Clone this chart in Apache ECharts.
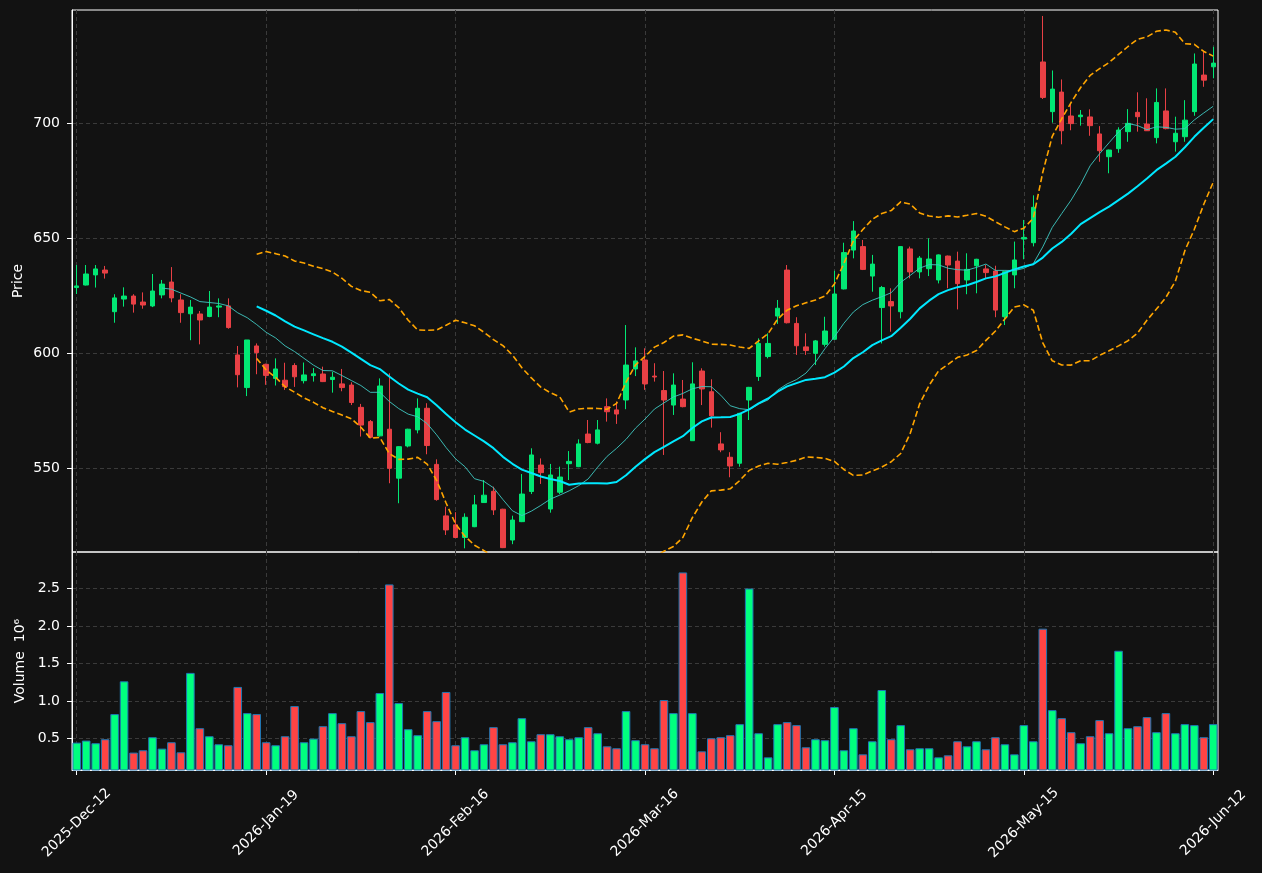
<!DOCTYPE html>
<html>
<head>
<meta charset="utf-8">
<title>Price / Volume</title>
<script src="https://cdn.jsdelivr.net/npm/echarts@6.0.0/dist/echarts.min.js"></script>
<style>
  html, body { margin: 0; padding: 0; background: #121212; }
  #main { width: 1262px; height: 873px; }
</style>
</head>
<body>
<div id="main"></div>
<script>
// ticks shown every 20 bars
const tickLabels = ['2025-Dec-12', '2026-Jan-19', '2026-Feb-16', '2026-Mar-16', '2026-Apr-15', '2026-May-15', '2026-Jun-12'];

const opens = [
  628.6, 629.7, 634.1, 636.2, 618.1, 623.6, 624.9, 622.3, 620.6, 625.4,
  631.0, 623.2, 617.2, 617.1, 616.0, 620.1, 620.6, 599.3, 585.1, 603.2,
  595.2, 589.1, 588.3, 594.7, 588.1, 590.3, 591.0, 588.6, 586.7, 586.2,
  576.5, 570.3, 564.1, 567.0, 545.7, 559.7, 566.7, 576.1, 551.7, 529.3,
  525.4, 519.9, 524.6, 535.1, 540.0, 532.2, 518.8, 526.8, 539.9, 551.4,
  532.3, 539.6, 552.0, 550.7, 564.9, 560.9, 576.8, 575.4, 579.7, 593.2,
  597.1, 590.1, 583.8, 577.5, 580.1, 562.0, 592.3, 583.3, 560.6, 554.8,
  552.2, 579.7, 589.9, 598.6, 616.2, 636.2, 613.0, 602.8, 600.0, 603.9,
  606.1, 628.0, 644.9, 646.4, 633.6, 619.9, 622.5, 618.1, 645.4, 635.4,
  636.8, 631.9, 642.3, 640.1, 631.9, 638.1, 636.7, 635.8, 615.9, 634.1,
  649.7, 648.1, 726.7, 705.1, 713.6, 703.2, 702.9, 702.8, 695.4, 685.5,
  689.0, 696.4, 704.8, 699.7, 693.8, 705.4, 692.0, 694.2, 705.1, 721.0,
  724.6
];
const closes = [
  629.3, 634.5, 636.7, 634.9, 624.1, 624.9, 621.4, 621.0, 627.1, 630.1,
  624.1, 617.7, 620.1, 614.5, 620.1, 620.6, 611.2, 590.7, 605.8, 600.3,
  590.4, 593.2, 585.5, 589.8, 590.6, 591.1, 587.7, 589.6, 585.1, 578.6,
  568.8, 563.5, 585.8, 550.0, 559.4, 567.0, 576.1, 559.9, 536.4, 523.2,
  519.9, 528.7, 534.1, 538.3, 531.9, 515.5, 527.5, 538.8, 555.8, 548.1,
  547.1, 546.2, 553.0, 560.6, 561.2, 566.7, 574.6, 573.6, 594.9, 596.7,
  586.7, 589.7, 579.7, 586.2, 576.8, 586.7, 584.5, 572.8, 558.0, 551.0,
  573.9, 585.2, 604.3, 604.3, 619.6, 613.3, 603.3, 601.2, 605.4, 609.7,
  625.8, 643.8, 653.2, 636.5, 638.8, 628.6, 620.6, 646.4, 635.4, 641.4,
  641.0, 642.8, 638.4, 630.3, 636.5, 640.9, 635.1, 618.8, 635.5, 640.6,
  650.4, 663.5, 711.3, 714.9, 696.8, 699.9, 703.6, 699.0, 688.1, 688.4,
  697.1, 700.0, 702.9, 696.8, 709.1, 697.7, 695.7, 701.4, 725.8, 718.8,
  726.2
];
const lows = [
  625.8, 629.5, 628.6, 632.5, 613.3, 620.3, 617.7, 619.4, 620.1, 623.9,
  622.2, 613.3, 605.7, 603.9, 615.7, 615.7, 610.7, 585.2, 581.4, 590.9,
  586.3, 586.0, 584.1, 585.4, 586.9, 587.7, 587.5, 582.9, 583.5, 577.5,
  563.8, 563.0, 563.8, 543.5, 534.8, 559.1, 565.2, 556.1, 535.9, 521.0,
  519.7, 515.2, 524.4, 535.0, 529.7, 515.3, 517.0, 526.6, 538.8, 543.2,
  530.7, 538.8, 544.9, 550.5, 560.9, 560.4, 570.3, 569.3, 575.7, 590.1,
  584.1, 587.7, 555.8, 573.2, 576.5, 562.0, 577.5, 567.7, 557.0, 546.1,
  550.7, 571.0, 588.0, 597.8, 612.8, 613.0, 599.3, 599.3, 594.9, 602.9,
  605.9, 627.8, 641.3, 636.2, 626.8, 604.3, 609.4, 615.2, 632.6, 632.6,
  633.6, 630.4, 628.3, 619.1, 625.7, 626.1, 632.6, 615.7, 612.3, 628.3,
  640.9, 646.5, 710.6, 700.3, 690.9, 697.0, 699.0, 694.6, 683.3, 678.3,
  687.2, 692.0, 696.4, 696.7, 691.3, 697.4, 687.7, 692.0, 703.3, 715.9,
  719.6
];
const highs = [
  638.4, 638.4, 638.4, 638.0, 625.7, 628.7, 625.7, 626.5, 634.5, 631.9,
  637.5, 625.7, 623.2, 618.4, 627.1, 623.9, 623.9, 603.2, 605.8, 604.3,
  595.5, 597.8, 595.9, 595.7, 596.0, 593.6, 594.2, 592.0, 593.2, 587.4,
  578.0, 571.0, 589.1, 591.3, 559.6, 567.2, 580.4, 578.3, 553.9, 533.3,
  530.9, 530.4, 538.4, 544.9, 542.0, 532.4, 529.4, 547.5, 558.7, 554.3,
  551.9, 550.7, 557.5, 562.6, 571.0, 571.0, 580.4, 579.0, 612.3, 602.6,
  602.2, 595.7, 592.3, 591.3, 588.4, 596.1, 593.5, 588.7, 565.7, 557.0,
  574.1, 585.4, 606.5, 608.7, 623.2, 638.4, 615.7, 608.7, 605.8, 615.9,
  635.9, 648.1, 657.5, 649.3, 642.8, 629.3, 628.3, 646.6, 646.4, 642.3,
  650.0, 643.0, 642.5, 644.2, 643.5, 641.1, 638.4, 638.1, 635.7, 648.6,
  658.0, 668.7, 746.7, 723.0, 719.1, 708.3, 705.8, 706.1, 698.8, 688.6,
  698.3, 706.2, 713.5, 710.9, 715.2, 715.2, 702.9, 710.1, 730.4, 731.2,
  733.3
];
// volume in millions
const volumes = [
  0.446, 0.473, 0.438, 0.491, 0.826, 1.263, 0.313, 0.344, 0.518, 0.366,
  0.451, 0.317, 1.375, 0.638, 0.531, 0.424, 0.411, 1.188, 0.839, 0.826,
  0.451, 0.411, 0.531, 0.933, 0.451, 0.500, 0.665, 0.839, 0.705, 0.531,
  0.866, 0.719, 1.107, 2.554, 0.973, 0.625, 0.545, 0.866, 0.732, 1.121,
  0.411, 0.518, 0.344, 0.424, 0.652, 0.424, 0.451, 0.772, 0.464, 0.558,
  0.558, 0.531, 0.491, 0.518, 0.652, 0.571, 0.397, 0.371, 0.866, 0.478,
  0.424, 0.371, 1.013, 0.839, 2.714, 0.839, 0.330, 0.504, 0.518, 0.545,
  0.692, 2.500, 0.571, 0.250, 0.692, 0.719, 0.679, 0.384, 0.491, 0.478,
  0.920, 0.344, 0.638, 0.290, 0.464, 1.147, 0.491, 0.679, 0.357, 0.371,
  0.371, 0.250, 0.277, 0.464, 0.397, 0.464, 0.357, 0.518, 0.424, 0.290,
  0.679, 0.464, 1.964, 0.879, 0.772, 0.585, 0.438, 0.531, 0.746, 0.571,
  1.670, 0.638, 0.665, 0.786, 0.585, 0.839, 0.571, 0.692, 0.679, 0.518,
  0.692
];

const priceTicks = [550, 600, 650, 700];
const volumeTicks = [0.5, 1.0, 1.5, 2.0, 2.5];

const upColor = '#02e774';
const downColor = '#e84045';
const upVolColor = '#00ff7f';
const downVolColor = '#ff4444';
const fontFamily = 'DejaVu Sans';

// rolling mean / bollinger from the closes
function movingAverage(values, n) {
  let out = [];
  for (let i = 0; i < values.length; i++) {
    if (i < n - 1) { out.push('-'); continue; }
    let sum = 0;
    for (let j = i - n + 1; j <= i; j++) sum += values[j];
    out.push(+(sum / n).toFixed(3));
  }
  return out;
}

function bollinger(values, n, k) {
  let upper = [], lower = [];
  for (let i = 0; i < values.length; i++) {
    if (i < n - 1) { upper.push('-'); lower.push('-'); continue; }
    let sum = 0;
    for (let j = i - n + 1; j <= i; j++) sum += values[j];
    let mean = sum / n;
    let sq = 0;
    for (let j = i - n + 1; j <= i; j++) sq += (values[j] - mean) * (values[j] - mean);
    let sd = Math.sqrt(sq / n);
    upper.push(+(mean + k * sd).toFixed(3));
    lower.push(+(mean - k * sd).toFixed(3));
  }
  return { upper: upper, lower: lower };
}

const categories = closes.map((c, i) => i);
const candles = closes.map((c, i) => [opens[i], c, lows[i], highs[i]]);
const ma10 = movingAverage(closes, 10);
const ma20 = movingAverage(closes, 20);
const bands = bollinger(closes, 20, 2);
const volBars = volumes.map((v, i) => ({
  value: v,
  itemStyle: { color: closes[i] >= opens[i] ? upVolColor : downVolColor }
}));

const gridLine = { show: true, lineStyle: { color: '#3a3a3a', type: [4, 3], width: 1 } };
const axisText = { color: '#ffffff', fontFamily: fontFamily, fontSize: 14 };

const chart = echarts.init(document.getElementById('main'), null, { renderer: 'canvas' });

chart.setOption({
  backgroundColor: '#121212',
  animation: false,
  grid: [
    { left: 72, top: 10, width: 1146, height: 542, show: true, borderColor: '#ffffff', borderWidth: 1, backgroundColor: 'transparent' },
    { left: 72, top: 552, width: 1146, height: 218, show: true, borderColor: '#ffffff', borderWidth: 1, backgroundColor: 'transparent' }
  ],
  xAxis: [
    {
      type: 'category', gridIndex: 0, data: categories, boundaryGap: true,
      axisLine: { show: false },
      axisTick: { show: false },
      axisLabel: { show: false },
      splitLine: Object.assign({ interval: 19, alignWithLabel: true }, gridLine)
    },
    {
      type: 'category', gridIndex: 1, data: categories, boundaryGap: true,
      axisLine: { show: true, lineStyle: { color: '#ffffff' } },
      axisTick: { show: true, interval: 19, alignWithLabel: true, length: 5, lineStyle: { color: '#ffffff' } },
      axisLabel: Object.assign({
        interval: 19, rotate: 45, align: 'center', verticalAlign: 'middle', margin: 53,
        formatter: function (v, idx) { return tickLabels[idx / 20] || ''; }
      }, axisText),
      splitLine: Object.assign({ interval: 19, alignWithLabel: true }, gridLine)
    }
  ],
  yAxis: [
    {
      type: 'value', gridIndex: 0, min: 513.6, max: 749.3, scale: true,
      name: 'Price', nameLocation: 'middle', nameGap: 47, nameRotate: 90, nameMoveOverlap: false,
      nameTextStyle: { color: '#ffffff', fontFamily: fontFamily, fontSize: 14 },
      axisLine: { show: true, lineStyle: { color: '#ffffff' } },
      axisTick: { show: true, length: 5, customValues: priceTicks, lineStyle: { color: '#ffffff' } },
      axisLabel: Object.assign({ customValues: priceTicks, margin: 12 }, axisText),
      splitLine: gridLine
    },
    {
      type: 'value', gridIndex: 1, min: 0.081, max: 2.986,
      name: 'Volume  10⁶', nameLocation: 'middle', nameGap: 45, nameRotate: 90, nameMoveOverlap: false,
      nameTextStyle: { color: '#ffffff', fontFamily: fontFamily, fontSize: 14 },
      axisLine: { show: true, lineStyle: { color: '#ffffff' } },
      axisTick: { show: true, length: 5, customValues: volumeTicks, lineStyle: { color: '#ffffff' } },
      axisLabel: Object.assign({ customValues: volumeTicks, margin: 12, formatter: function (v) { return v.toFixed(1); } }, axisText),
      splitLine: gridLine
    }
  ],
  series: [
    {
      name: 'OHLC', type: 'candlestick', xAxisIndex: 0, yAxisIndex: 0,
      data: candles, barWidth: 5,
      itemStyle: { color: upColor, color0: downColor, borderColor: upColor, borderColor0: downColor, borderWidth: 1 }
    },
    {
      name: 'MA10', type: 'line', xAxisIndex: 0, yAxisIndex: 0, data: ma10,
      symbol: 'none', lineStyle: { color: '#3fc9c2', width: 1, opacity: 0.9 }, z: 3
    },
    {
      name: 'MA20', type: 'line', xAxisIndex: 0, yAxisIndex: 0, data: ma20,
      symbol: 'none', lineStyle: { color: '#00e8ff', width: 2 }, z: 4
    },
    {
      name: 'BB upper', type: 'line', xAxisIndex: 0, yAxisIndex: 0, data: bands.upper,
      symbol: 'none', lineStyle: { color: '#ffa500', width: 1.6, type: [6, 3] }, z: 4
    },
    {
      name: 'BB lower', type: 'line', xAxisIndex: 0, yAxisIndex: 0, data: bands.lower,
      symbol: 'none', lineStyle: { color: '#ffa500', width: 1.6, type: [6, 3] }, z: 4
    },
    {
      name: 'Volume', type: 'bar', xAxisIndex: 1, yAxisIndex: 1,
      data: volBars, barWidth: 8.6,
      itemStyle: { borderColor: '#1f77b4', borderWidth: 1 }
    }
  ]
});
</script>
</body>
</html>
